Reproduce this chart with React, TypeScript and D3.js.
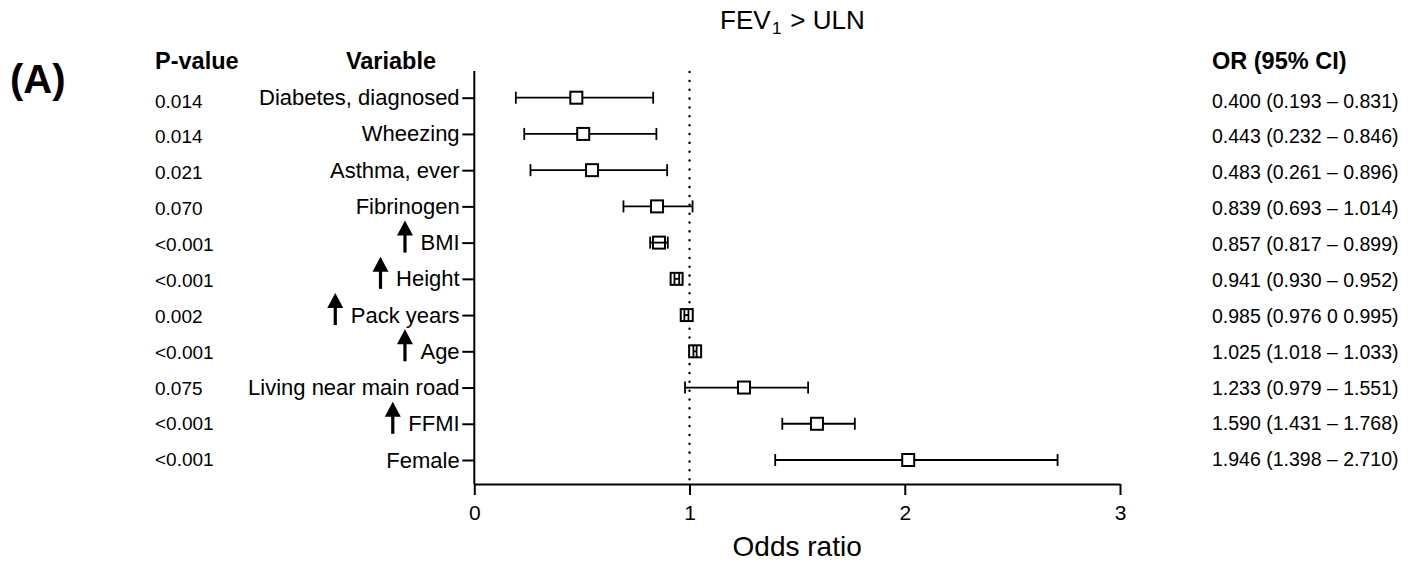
import React, { useEffect, useRef } from "react";
import * as d3 from "d3";

const variables = [
  "Diabetes, diagnosed",
  "Wheezing",
  "Asthma, ever",
  "Fibrinogen",
  "BMI",
  "Height",
  "Pack years",
  "Age",
  "Living near main road",
  "FFMI",
  "Female",
];
const pValues = ["0.014", "0.014", "0.021", "0.070", "<0.001", "<0.001", "0.002", "<0.001", "0.075", "<0.001", "<0.001"];
// marker positions as drawn in the figure
const pointEst = [0.474, 0.506, 0.547, 0.849, 0.858, 0.94, 0.987, 1.026, 1.253, 1.592, 2.016];
const ciLow = [0.193, 0.232, 0.261, 0.693, 0.817, 0.93, 0.976, 1.018, 0.979, 1.431, 1.398];
const ciHigh = [0.831, 0.846, 0.896, 1.014, 0.899, 0.952, 0.995, 1.033, 1.551, 1.768, 2.71];
const orLabels = [
  "0.400 (0.193 – 0.831)",
  "0.443 (0.232 – 0.846)",
  "0.483 (0.261 – 0.896)",
  "0.839 (0.693 – 1.014)",
  "0.857 (0.817 – 0.899)",
  "0.941 (0.930 – 0.952)",
  "0.985 (0.976 0 0.995)",
  "1.025 (1.018 – 1.033)",
  "1.233 (0.979 – 1.551)",
  "1.590 (1.431 – 1.768)",
  "1.946 (1.398 – 2.710)",
];
const arrowRows = ["BMI", "Height", "Pack years", "Age", "FFMI"];
const xTicks = [0, 1, 2, 3];

const FONT = "'Liberation Sans', Arial, Helvetica, sans-serif";

const App = () => {
  const ref = useRef<SVGSVGElement>(null);

  useEffect(() => {
    document.body.style.margin = "0";
    const svg = d3.select(ref.current);
    svg.selectAll("*").remove();

    const x = d3.scaleLinear().domain([0, 3]).range([474.3, 1120]);
    const y = d3.scalePoint().domain(variables).range([97.7, 460]);
    const yTable = d3.scalePoint().domain(variables).range([100.8, 459.5]);
    const top = 71,
      bottom = 484;

    // panel letter and title
    svg.append("text").attr("x", 10).attr("y", 93).attr("font-size", 40).attr("font-weight", "bold").text("(A)");

    const title = svg.append("text").attr("x", 720).attr("y", 29).attr("font-size", 26);
    title.append("tspan").text("FEV");
    title.append("tspan").attr("font-size", 17).attr("dx", 1.5).attr("dy", 5).text("1");
    title.append("tspan").attr("dx", 1.5).attr("dy", -5).text(" > ULN");

    // column headers
    svg.append("text").attr("x", 155).attr("y", 69).attr("font-size", 23.5).attr("font-weight", "bold").text("P-value");
    svg
      .append("text")
      .attr("x", 391)
      .attr("y", 69)
      .attr("text-anchor", "middle")
      .attr("font-size", 23.5)
      .attr("font-weight", "bold")
      .text("Variable");
    svg.append("text").attr("x", 1212).attr("y", 69).attr("font-size", 23.5).attr("font-weight", "bold").text("OR (95% CI)");

    // p-values and OR text
    svg
      .append("g")
      .selectAll("text")
      .data(variables)
      .join("text")
      .attr("x", 155)
      .attr("y", (d) => yTable(d)! + 6.8)
      .attr("font-size", 19)
      .text((d, i) => pValues[i]);

    svg
      .append("g")
      .selectAll("text")
      .data(variables)
      .join("text")
      .attr("x", 1212)
      .attr("y", (d) => yTable(d)! + 6.8)
      .attr("font-size", 19.5)
      .text((d, i) => orLabels[i]);

    // y axis
    const yAxis = svg
      .append("g")
      .attr("transform", `translate(${x(0)},0)`)
      .call(d3.axisLeft(y).tickSize(12).tickSizeOuter(0).tickPadding(2.7));
    yAxis.select(".domain").remove();
    yAxis.selectAll("line").attr("stroke", "#000").attr("stroke-width", 2);
    yAxis.selectAll("text").attr("font-size", 22).attr("font-family", FONT).attr("fill", "#000");
    svg
      .append("line")
      .attr("x1", x(0))
      .attr("x2", x(0))
      .attr("y1", top)
      .attr("y2", bottom)
      .attr("stroke", "#000")
      .attr("stroke-width", 2);

    // x axis
    const xAxis = svg
      .append("g")
      .attr("transform", `translate(0,${bottom})`)
      .call(d3.axisBottom(x).tickValues(xTicks).tickFormat(d3.format("d")).tickSize(11).tickSizeOuter(0).tickPadding(10));
    xAxis.select(".domain").attr("stroke", "#000").attr("stroke-width", 2);
    xAxis.selectAll("line").attr("stroke", "#000").attr("stroke-width", 2);
    xAxis.selectAll("text").attr("font-size", 21).attr("font-family", FONT).attr("fill", "#000");

    svg
      .append("text")
      .attr("x", (x(0) + x(3)) / 2)
      .attr("y", 556)
      .attr("text-anchor", "middle")
      .attr("font-size", 28)
      .text("Odds ratio");

    // reference line at OR = 1
    svg
      .append("line")
      .attr("x1", x(1))
      .attr("x2", x(1))
      .attr("y1", top + 1)
      .attr("y2", bottom)
      .attr("stroke", "#000")
      .attr("stroke-width", 2.4)
      .attr("stroke-linecap", "round")
      .attr("stroke-dasharray", "0.1 8.75");

    // arrows next to labels
    const labelNodes = yAxis.selectAll<SVGTextElement, string>(".tick text");
    labelNodes.each(function (d) {
      if (!arrowRows.includes(d)) return;
      const len = this.getComputedTextLength();
      const cx = x(0) - 14.7 - len - 15.5;
      const cy = y(d)!;
      const g = svg.append("g");
      g.append("rect").attr("x", cx - 1.6).attr("y", cy - 9).attr("width", 3.2).attr("height", 19).attr("fill", "#000");
      g.append("path")
        .attr("d", `M${cx - 8},${cy - 7} L${cx},${cy - 22} L${cx + 8},${cy - 7} Z`)
        .attr("fill", "#000");
    });

    // error bars and markers
    const box = 12,
      cap = 6;
    const rows = svg.append("g").selectAll("g").data(variables).join("g");
    rows.each(function (d, i) {
      const g = d3.select(this);
      const cy = y(d)!;
      const lo = x(ciLow[i]),
        hi = x(ciHigh[i]),
        px = x(pointEst[i]);
      const drawBars = () => {
        g.append("line").attr("x1", lo).attr("x2", hi).attr("y1", cy).attr("y2", cy);
        g.append("line").attr("x1", lo).attr("x2", lo).attr("y1", cy - cap).attr("y2", cy + cap);
        g.append("line").attr("x1", hi).attr("x2", hi).attr("y1", cy - cap).attr("y2", cy + cap);
      };
      const small = hi - lo < box * 2;
      if (!small) drawBars();
      g.append("rect")
        .attr("x", px - box / 2)
        .attr("y", cy - box / 2)
        .attr("width", box)
        .attr("height", box)
        .attr("fill", "#fff")
        .attr("stroke", "#000")
        .attr("stroke-width", 2);
      if (small) drawBars();
      g.selectAll("line").attr("stroke", "#000").attr("stroke-width", 1.8);
    });
  }, []);

  return (
    <svg
      ref={ref}
      width={1412}
      height={562}
      style={{ display: "block", background: "#fff", fontFamily: FONT }}
      fontFamily={FONT}
    />
  );
};

export default App;
